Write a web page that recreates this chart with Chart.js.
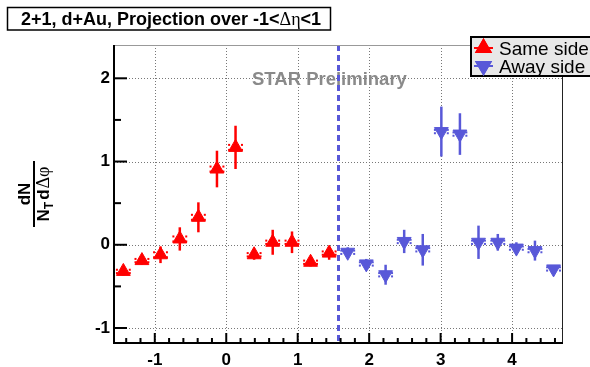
<!DOCTYPE html>
<html>
<head>
<meta charset="utf-8">
<script src="https://cdn.jsdelivr.net/npm/chart.js@4"></script>
<style>
  html, body { margin: 0; padding: 0; background: #fff; }
  #wrap { width: 590px; height: 367px; }
</style>
</head>
<body>
<div id="wrap"><canvas id="myChart" width="590" height="367"></canvas></div>
<script>
// dphi bin centres and yields, same side (near) and away side
const sameX = [-1.44, -1.18, -0.92, -0.65, -0.39, -0.13, 0.13, 0.39, 0.65, 0.92, 1.18, 1.44];
const sameY = [-0.32, -0.19, -0.12, 0.07, 0.33, 0.91, 1.17, -0.12, 0.03, 0.03, -0.21, -0.10];
const sameErr = [0.05, 0.05, 0.10, 0.14, 0.18, 0.22, 0.26, 0.06, 0.15, 0.13, 0.05, 0.08];
const sameSys = [0.02, 0.02, 0.03, 0.03, 0.03, 0.03, 0.03, 0.02, 0.02, 0.02, 0.02, 0.02];

const awayX = [1.70, 1.96, 2.23, 2.49, 2.75, 3.01, 3.27, 3.53, 3.80, 4.06, 4.32, 4.58];
const awayY = [-0.09, -0.23, -0.36, 0.04, -0.06, 1.36, 1.33, 0.03, 0.03, -0.04, -0.07, -0.29];
const awayErr = [0.06, 0.06, 0.12, 0.14, 0.19, 0.30, 0.25, 0.20, 0.10, 0.07, 0.12, 0.04];
const awaySys = [0.02, 0.02, 0.02, 0.02, 0.02, 0.02, 0.02, 0.02, 0.02, 0.02, 0.02, 0.02];

// axis ranges and ticks
const xMin = -1.5708, xMax = 4.7124;
const yMin = -1.18, yMax = 2.4;
const xTicks = [-1, 0, 1, 2, 3, 4];
const xMinorTicks = [-1.4, -1.2, -0.8, -0.6, -0.4, -0.2, 0.2, 0.4, 0.6, 0.8, 1.2, 1.4, 1.6, 1.8,
  2.2, 2.4, 2.6, 2.8, 3.2, 3.4, 3.6, 3.8, 4.2, 4.4, 4.6];
const yTicks = [-1, 0, 1, 2];
const yMinorTicks = [-0.5, 0.5, 1.5];
const sideSplit = 1.5708; // pi/2, near / away boundary

const RED = '#ff0000';
const BLUE = '#5858d8';
const SANS = '"Liberation Sans", Arial, sans-serif';
const SERIF = '"Liberation Serif", "Times New Roman", serif';

function toPoints(xs, ys) {
  return xs.map((x, i) => ({ x: x, y: ys[i] }));
}

const rootStyle = {
  id: 'rootStyle',
  beforeDatasetsDraw(chart) {
    const ctx = chart.ctx;
    const a = chart.chartArea;
    const xs = chart.scales.x, ys = chart.scales.y;
    ctx.save();

    // dotted grid
    ctx.strokeStyle = '#777';
    ctx.lineWidth = 1;
    ctx.setLineDash([1, 2]);
    xTicks.forEach(v => {
      const px = Math.round(xs.getPixelForValue(v)) + 0.5;
      ctx.beginPath(); ctx.moveTo(px, a.top); ctx.lineTo(px, a.bottom); ctx.stroke();
    });
    yTicks.forEach(v => {
      const py = Math.round(ys.getPixelForValue(v)) + 0.5;
      ctx.beginPath(); ctx.moveTo(a.left, py); ctx.lineTo(a.right, py); ctx.stroke();
    });
    ctx.setLineDash([]);

    // preliminary label
    ctx.fillStyle = '#8a8a8a';
    ctx.font = 'bold 18.5px ' + SANS;
    ctx.textBaseline = 'alphabetic';
    ctx.textAlign = 'left';
    ctx.fillText('STAR Preliminary', 252, 85);

    // boundary between near and away side
    const sx = xs.getPixelForValue(sideSplit);
    ctx.strokeStyle = BLUE;
    ctx.lineWidth = 3;
    ctx.setLineDash([6, 4]);
    ctx.beginPath(); ctx.moveTo(sx, a.top); ctx.lineTo(sx, a.bottom); ctx.stroke();
    ctx.setLineDash([]);

    // statistical error bars and systematic brackets
    chart.data.datasets.forEach((ds, di) => {
      const meta = chart.getDatasetMeta(di);
      ctx.strokeStyle = ds.borderColor;
      ctx.fillStyle = ds.borderColor;
      ctx.lineWidth = 2.5;
      ds.data.forEach((p, i) => {
        const px = meta.data[i].x;
        const y1 = ys.getPixelForValue(p.y + ds.errY[i]);
        const y2 = ys.getPixelForValue(p.y - ds.errY[i]);
        ctx.beginPath(); ctx.moveTo(px, y1); ctx.lineTo(px, y2); ctx.stroke();
        const hw = xs.getPixelForValue(p.x + 0.09) - px;
        const sUp = ys.getPixelForValue(p.y + ds.sysY[i]);
        const sDn = ys.getPixelForValue(p.y - ds.sysY[i]);
        [px - hw, px + hw].forEach(bx => {
          ctx.fillRect(bx - 1, sUp - 1, 2, 2);
          ctx.fillRect(bx - 1, sDn - 1, 2, 2);
        });
      });
    });
    ctx.restore();
  },
  afterDatasetsDraw(chart) {
    const ctx = chart.ctx;
    const a = chart.chartArea;
    const xs = chart.scales.x, ys = chart.scales.y;
    ctx.save();

    // frame
    ctx.lineWidth = 1;
    ctx.strokeStyle = '#999';
    ctx.beginPath(); ctx.moveTo(a.left, a.top + 0.5); ctx.lineTo(a.right, a.top + 0.5); ctx.stroke();
    ctx.strokeStyle = '#222';
    ctx.beginPath(); ctx.moveTo(a.right - 0.5, a.top); ctx.lineTo(a.right - 0.5, a.bottom); ctx.stroke();
    ctx.strokeStyle = '#000';
    ctx.lineWidth = 2;
    ctx.beginPath();
    ctx.moveTo(a.left, a.top); ctx.lineTo(a.left, a.bottom); ctx.lineTo(a.right, a.bottom);
    ctx.stroke();

    // tick marks pointing into the frame
    ctx.lineWidth = 2;
    const tickX = (v, len) => {
      const px = xs.getPixelForValue(v);
      ctx.beginPath(); ctx.moveTo(px, a.bottom); ctx.lineTo(px, a.bottom - len); ctx.stroke();
    };
    const tickY = (v, len) => {
      const py = ys.getPixelForValue(v);
      ctx.beginPath(); ctx.moveTo(a.left, py); ctx.lineTo(a.left + len, py); ctx.stroke();
    };
    xTicks.forEach(v => tickX(v, 10));
    xMinorTicks.forEach(v => tickX(v, 5));
    yTicks.forEach(v => tickY(v, 13));
    yMinorTicks.forEach(v => tickY(v, 7));

    // y axis title: dN / (N_T d dphi)
    ctx.translate(34, 194);
    ctx.rotate(-Math.PI / 2);
    ctx.fillStyle = '#000';
    ctx.textBaseline = 'alphabetic';
    ctx.fillRect(-33, -1, 66, 2);
    ctx.font = 'bold 17px ' + SANS;
    ctx.textAlign = 'center';
    ctx.fillText('dN', 0, -4);
    const parts = [
      { t: 'N', f: 'bold 17px ' + SANS, dy: 0, gap: 0 },
      { t: 'T', f: 'bold 12px ' + SANS, dy: 4, gap: 2 },
      { t: 'd', f: 'bold 17px ' + SANS, dy: 0, gap: 1 },
      { t: '\u0394\u03c6', f: '18px ' + SERIF, dy: 0, gap: 0 }
    ];
    let total = 0;
    parts.forEach(p => { ctx.font = p.f; p.w = ctx.measureText(p.t).width + p.gap; total += p.w; });
    let cx = -total / 2;
    ctx.textAlign = 'left';
    parts.forEach(p => {
      ctx.font = p.f;
      ctx.fillText(p.t, cx, 15 + p.dy);
      cx += p.w;
    });
    ctx.setTransform(1, 0, 0, 1, 0, 0);

    // title box
    ctx.fillStyle = '#fff';
    ctx.fillRect(7, 7, 324, 23);
    ctx.strokeStyle = '#000';
    ctx.lineWidth = 1.5;
    ctx.strokeRect(7.5, 7.5, 323, 22.5);
    const titleParts = [
      { t: '2+1, d+Au, Projection over -1<', f: 'bold 18px ' + SANS },
      { t: '\u0394\u03b7', f: '18px ' + SERIF },
      { t: '<1', f: 'bold 18px ' + SANS }
    ];
    let tx = 21;
    ctx.fillStyle = '#000';
    ctx.textAlign = 'left';
    titleParts.forEach(p => {
      ctx.font = p.f;
      ctx.fillText(p.t, tx, 25);
      tx += ctx.measureText(p.t).width;
    });

    // legend box
    ctx.fillStyle = '#e8e8e8';
    ctx.fillRect(470, 36, 125, 40);
    ctx.strokeStyle = '#000';
    ctx.lineWidth = 2;
    ctx.strokeRect(471, 37, 125, 39);
    const rows = [48, 66];
    chart.data.datasets.forEach((ds, di) => {
      const cy = rows[di];
      ctx.strokeStyle = ds.borderColor;
      ctx.lineWidth = 2;
      ctx.beginPath(); ctx.moveTo(474, cy); ctx.lineTo(493, cy); ctx.stroke();
      Chart.helpers.drawPoint(ctx, {
        pointStyle: 'triangle', radius: 8, rotation: ds.pointRotation, borderWidth: 1
      }, 483.5, cy);
      ctx.fillStyle = ds.backgroundColor;
      ctx.strokeStyle = ds.borderColor;
      ctx.fill(); ctx.stroke();
      ctx.fillStyle = '#000';
      ctx.font = '19px ' + SANS;
      ctx.fillText(ds.label, 499, cy + 7);
    });
    ctx.restore();
  }
};

const data = {
  datasets: [
    {
      label: 'Same side',
      data: toPoints(sameX, sameY),
      errY: sameErr,
      sysY: sameSys,
      backgroundColor: RED,
      borderColor: RED,
      pointStyle: 'triangle',
      pointRotation: 0,
      pointRadius: 8,
      pointBorderWidth: 1
    },
    {
      label: 'Away side',
      data: toPoints(awayX, awayY),
      errY: awayErr,
      sysY: awaySys,
      backgroundColor: BLUE,
      borderColor: BLUE,
      pointStyle: 'triangle',
      pointRotation: 180,
      pointRadius: 8,
      pointBorderWidth: 1
    }
  ]
};

const config = {
  type: 'scatter',
  data: data,
  options: {
    responsive: false,
    animation: false,
    layout: { padding: { left: 0, top: 45, right: 27, bottom: 0 } },
    plugins: {
      legend: { display: false },
      tooltip: { enabled: false },
      title: { display: false }
    },
    scales: {
      x: {
        type: 'linear',
        min: xMin,
        max: xMax,
        grid: { display: false, drawTicks: false },
        border: { display: false },
        afterBuildTicks: axis => { axis.ticks = xTicks.map(v => ({ value: v })); },
        afterFit: axis => { axis.height = 24; },
        ticks: {
          autoSkip: false,
          maxRotation: 0,
          padding: 7,
          color: '#000',
          font: { family: SANS, size: 17, weight: 'bold' },
          callback: v => String(v)
        }
      },
      y: {
        type: 'linear',
        min: yMin,
        max: yMax,
        grid: { display: false, drawTicks: false },
        border: { display: false },
        afterBuildTicks: axis => { axis.ticks = yTicks.map(v => ({ value: v })); },
        afterFit: axis => { axis.width = 114; },
        ticks: {
          autoSkip: false,
          padding: 4,
          color: '#000',
          font: { family: SANS, size: 17, weight: 'bold' },
          callback: v => String(v)
        }
      }
    }
  },
  plugins: [rootStyle]
};

const myChart = new Chart(document.getElementById('myChart'), config);
</script>
</body>
</html>
